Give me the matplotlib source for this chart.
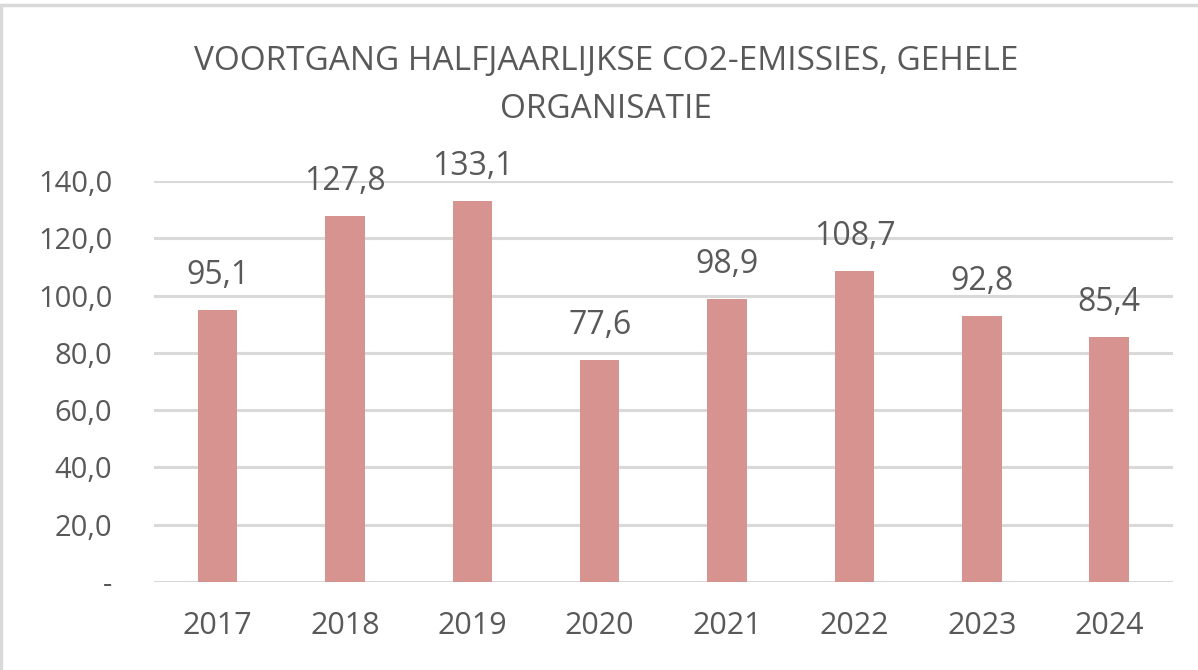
import matplotlib
matplotlib.use("Agg")
import matplotlib.pyplot as plt
from matplotlib.patches import Rectangle

years = ["2017", "2018", "2019", "2020", "2021", "2022", "2023", "2024"]
emissions = [95.1, 127.8, 133.1, 77.6, 98.9, 108.7, 92.8, 85.4]
yticks = [0, 20, 40, 60, 80, 100, 120, 140]
ytick_labels = ["-", "20,0", "40,0", "60,0", "80,0", "100,0", "120,0", "140,0"]

TEXT = "#595959"
GRID = "#D9D9D9"
BAR = "#D6938F"

plt.rcParams["font.family"] = ["Open Sans", "DejaVu Sans"]

fig = plt.figure(figsize=(11.98, 6.70), dpi=100, facecolor="white")
ax = fig.add_axes([0.1285, 0.1313, 0.8505, 0.5986])

x = range(len(years))
ax.bar(x, emissions, width=0.31, color=BAR, zorder=3)
for xi, v in zip(x, emissions):
    ax.annotate(f"{v:.1f}".replace(".", ","), (xi, v), xytext=(0, 13),
                textcoords="offset points", ha="center", va="bottom",
                fontsize=23, color=TEXT)

ax.set_xlim(-0.5, len(years) - 0.5)
ax.set_ylim(0, 140)
ax.set_yticks(yticks)
ax.set_yticklabels(ytick_labels)
ax.set_xticks(list(x))
ax.set_xticklabels(years)
ax.tick_params(axis="y", length=0, pad=30, labelsize=21, labelcolor=TEXT)
ax.tick_params(axis="x", length=0, pad=21, labelsize=22, labelcolor=TEXT)
ax.grid(axis="y", color=GRID, linewidth=2.2, zorder=0)
for s in ax.spines.values():
    s.set_visible(False)

fig.text(0.506, 0.873, "VOORTGANG HALFJAARLIJKSE CO2-EMISSIES, GEHELE\nORGANISATIE",
         ha="center", va="center", fontsize=24, color=TEXT, linespacing=1.6)

fig.patches.append(Rectangle((0.001, -0.01), 1.2, 1.0 - 0.0075 + 0.01,
                             transform=fig.transFigure, fill=False,
                             edgecolor=GRID, linewidth=2.5))

fig.savefig("out.png", dpi=100, facecolor="white")
